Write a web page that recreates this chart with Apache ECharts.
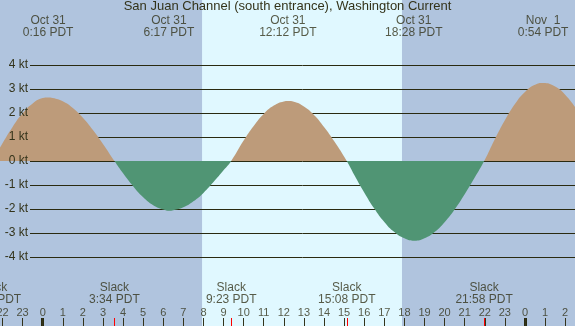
<!DOCTYPE html>
<html>
<head>
<meta charset="utf-8">
<script src="https://cdn.jsdelivr.net/npm/echarts@6/dist/echarts.min.js"></script>
<style>
html, body { margin: 0; padding: 0; background: #b0c4de; }
#chart1 { width: 575px; height: 326px; }
</style>
</head>
<body>
<div id="chart1"></div>
<script>
// hours from midnight Oct 31 PDT (negative = Oct 30, above 24 = Nov 1)
var hours = [-2.5, -2, -1.5, -1, -0.5, 0, 0.27, 0.5, 1, 1.5, 2, 2.5, 3, 3.57,
  4, 4.5, 5, 5.5, 6, 6.3, 6.5, 7, 7.5, 8, 8.5, 9, 9.38,
  10, 10.5, 11, 11.5, 12, 12.2, 12.5, 13, 13.5, 14, 14.5, 15.13,
  15.5, 16, 16.5, 17, 17.5, 18, 18.5, 19, 19.5, 20, 20.5, 21, 21.5, 21.97,
  22.5, 23, 23.5, 24, 24.5, 24.9, 25.5, 26, 26.5];
var knots = [0, 0.74, 1.42, 1.99, 2.40, 2.62, 2.65, 2.63, 2.49, 2.21, 1.80, 1.29, 0.71, 0,
  -0.51, -1.05, -1.51, -1.84, -2.02, -2.07, -2.05, -1.93, -1.68, -1.33, -0.88, -0.39, 0,
  0.85, 1.46, 1.96, 2.31, 2.48, 2.5, 2.47, 2.27, 1.92, 1.42, 0.83, 0,
  -0.57, -1.31, -1.98, -2.54, -2.96, -3.22, -3.32, -3.22, -2.96, -2.55, -2.02, -1.39, -0.69, 0,
  0.91, 1.70, 2.38, 2.88, 3.18, 3.25, 3.10, 2.76, 2.24];

var slackTimes = [-2.5, 3.567, 9.383, 15.133, 21.967];
var slackLabels = ['21:30 PDT', '3:34 PDT', '9:23 PDT', '15:08 PDT', '21:58 PDT'];
var peakTimes = [0.267, 6.283, 12.2, 18.467, 24.9];
var peakLabels = ['Oct 31\n0:16 PDT', 'Oct 31\n6:17 PDT', 'Oct 31\n12:12 PDT', 'Oct 31\n18:28 PDT', 'Nov  1\n0:54 PDT'];
var tickHours = [-2, -1, 0, 1, 2, 3, 4, 5, 6, 7, 8, 9, 10, 11, 12, 13, 14, 15, 16, 17, 18, 19, 20, 21, 22, 23, 24, 25, 26];
var midnights = [0, 24];
var sunrise = 7.93, sunset = 17.88;

var xMin = -2.125, xMax = 26.49;
var ink = '#33331a';
var font = 'Liberation Sans';

var dom = document.getElementById('chart1');
var myChart = echarts.init(dom);

var hidden = { show: false };
function plainX(grid) {
  return { type: 'value', gridIndex: grid, min: xMin, max: xMax, axisLine: hidden, axisTick: hidden, axisLabel: hidden, splitLine: hidden };
}
function tickAxis(values, color, width) {
  return {
    type: 'value', gridIndex: 0, min: xMin, max: xMax, position: 'bottom',
    axisLine: hidden, splitLine: hidden, axisLabel: hidden,
    axisTick: { show: true, inside: true, length: 8, customValues: values, lineStyle: { color: color, width: width } }
  };
}
function textLayer(times, y, fontSize, fmt) {
  return {
    type: 'scatter', xAxisIndex: 0, yAxisIndex: 0, z: 6, clip: false, silent: true,
    symbolSize: 1, itemStyle: { color: 'transparent' },
    data: times.map(function (t) { return [t, y]; }),
    label: {
      show: true, position: 'inside', fontSize: fontSize, lineHeight: 12, color: ink, fontFamily: font,
      formatter: fmt
    }
  };
}
var slackInRange = slackTimes.filter(function (t) { return t > xMin && t < xMax; });

var option = {
  animation: false,
  backgroundColor: '#b0c4de',
  textStyle: { fontFamily: font },
  title: {
    text: 'San Juan Channel (south entrance), Washington Current',
    left: 'center', top: 0, padding: 0,
    textStyle: { fontSize: 13, fontWeight: 'normal', color: ink, fontFamily: font }
  },
  grid: [
    { left: 0, right: 0, top: 0, bottom: 0, outerBoundsMode: 'none' },
    { left: 0, right: 0, top: 65, height: 192, outerBoundsMode: 'none' },
    { left: 30, right: 0, top: 65, height: 192, outerBoundsMode: 'none' }
  ],
  xAxis: [
    plainX(0),
    tickAxis(midnights, '#2a2a10', 3),
    tickAxis(slackInRange, '#ff0000', 1),
    tickAxis(tickHours, ink, 1),
    plainX(1),
    plainX(2)
  ],
  yAxis: [
    { type: 'value', gridIndex: 0, min: 0, max: 326, inverse: true, show: false },
    { type: 'value', gridIndex: 1, min: -4, max: 4, show: false },
    {
      type: 'value', gridIndex: 2, min: -4, max: 4, interval: 1, position: 'left', z: 1,
      axisLine: hidden, axisTick: hidden, axisLabel: hidden,
      splitLine: { show: true, lineStyle: { color: '#2a2a10', width: 1 } }
    },
    {
      type: 'value', gridIndex: 2, min: -4, max: 4, interval: 1, position: 'left', z: 5,
      axisLine: hidden, axisTick: hidden, splitLine: hidden,
      axisLabel: {
        margin: 2, fontSize: 12, color: ink, fontFamily: font,
        formatter: function (v) { return v + ' kt'; }
      }
    }
  ],
  visualMap: {
    type: 'piecewise', show: false, seriesIndex: 1, dimension: 1,
    pieces: [
      { gt: -10, lt: 0, color: '#509574' },
      { gte: 0, lte: 10, color: '#bd9b7a' }
    ]
  },
  series: [
    {
      // daylight band
      type: 'line', xAxisIndex: 0, yAxisIndex: 0, z: 0,
      data: [[sunrise, 0], [sunset, 0]], symbol: 'none', lineStyle: { opacity: 0 },
      markArea: {
        silent: true, z: 0,
        itemStyle: { color: '#e0f8ff' },
        data: [[{ xAxis: sunrise }, { xAxis: sunset }]]
      }
    },
    {
      type: 'line', xAxisIndex: 4, yAxisIndex: 1, z: 2,
      data: hours.map(function (h, i) { return [h, knots[i]]; }),
      smooth: true, symbol: 'none',
      lineStyle: { width: 0, opacity: 0 },
      areaStyle: { opacity: 1 }
    },
    textLayer(slackTimes, 294, 12, function (p) { return 'Slack\n' + slackLabels[p.dataIndex]; }),
    textLayer(peakTimes, 27, 12, function (p) { return peakLabels[p.dataIndex]; }),
    textLayer(tickHours, 312.5, 11, function (p) { return String((tickHours[p.dataIndex] + 24) % 24); })
  ]
};

myChart.setOption(option);
</script>
</body>
</html>
